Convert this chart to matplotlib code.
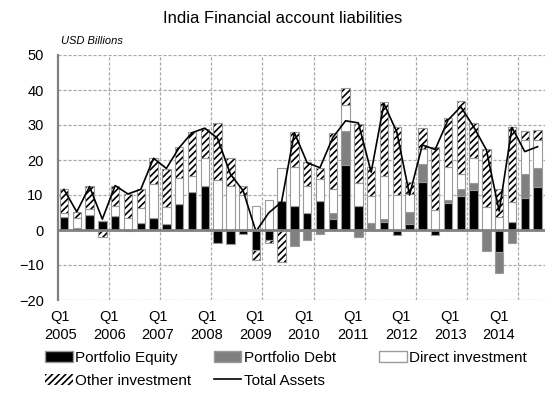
import numpy as np
import matplotlib
matplotlib.use("Agg")
import matplotlib.pyplot as plt
from matplotlib.patches import Patch
from matplotlib.lines import Line2D

plt.rcParams["font.family"] = ["Liberation Sans", "DejaVu Sans"]
plt.rcParams["hatch.linewidth"] = 1.2

# ---------- data (USD billions, Q1 2005 .. Q2 2014) ----------
years = ["2005", "2006", "2007", "2008", "2009", "2010", "2011", "2012", "2013", "2014"]

equity = [3.8, 0.6, 4.4, 2.7, 4.1, -0.4, 2.1, 3.5,
          1.7, 7.4, 10.8, 12.6, -3.8, -4.1, -1.2, -5.7,
          -2.8, 8.2, 7.0, 5.0, 8.4, 3.1, 18.6, 7.0,
          0.0, 2.2, -1.4, 1.6, 13.8, -1.4, 7.6, 9.7,
          11.4, 0.0, -6.4, 2.4, 9.2, 12.4]
debt = [0, 0, 0, 0, 0, 0, 0, 0,
        0, 0, 0, 0, 0, 0, 0, 0,
        0, 0, -4.5, -2.9, -1.2, 1.7, 9.6, -2.1,
        1.9, 1.0, 0, 3.6, 5.2, 0, 1.0, 1.9,
        2.1, -6.0, -5.8, -3.6, 6.7, 5.2]
direct = [1.2, 2.7, 1.7, 0.0, 2.9, 3.3, 4.3, 9.6,
          4.8, 7.6, 4.7, 7.9, 14.2, 12.7, 10.0, 7.0,
          8.6, 9.4, 11.0, 7.5, 6.1, 6.9, 7.6, 6.4,
          7.8, 12.2, 10.0, 5.0, 4.1, 5.7, 9.5, 4.3,
          7.0, 6.5, 3.8, 5.7, 9.8, 8.1]
other = [6.6, 1.9, 6.4, -2.0, 5.7, 7.0, 5.2, 7.4,
         10.9, 8.6, 12.6, 8.5, 16.3, 7.8, 2.7, -2.8,
         -1.0, -9.2, 10.0, 6.8, 3.2, 15.9, 4.9, 17.0,
         8.4, 21.3, 19.5, 3.4, 6.1, 18.1, 13.8, 21.1,
         10.2, 16.6, 7.8, 21.2, 2.7, 2.9]
total = [11.6, 5.2, 12.4, 3.1, 12.7, 10.3, 11.6, 20.5,
         17.6, 23.5, 27.8, 29.1, 26.2, 16.0, 11.2, -0.4,
         4.9, 8.0, 27.8, 19.2, 17.8, 26.4, 31.2, 30.6,
         16.5, 36.1, 28.0, 10.0, 24.3, 23.0, 31.4, 35.2,
         29.5, 22.9, 5.4, 29.3, 22.4, 23.8]

n = len(total)
x = np.arange(n)

fig = plt.figure(figsize=(5.48, 4.0), dpi=100)
ax = fig.add_axes([0.105, 0.25, 0.89, 0.6125])

edge = "#9a9a9a"
HATCH = "/////"
styles = [
    ("Portfolio Equity", equity, dict(facecolor="black")),
    ("Portfolio Debt", debt, dict(facecolor="#808080")),
    ("Direct investment", direct, dict(facecolor="white")),
    ("Other investment", other, dict(facecolor="white", hatch=HATCH)),
]

pos_base = np.zeros(n)
neg_base = np.zeros(n)
for name, vals, st in styles:
    v = np.array(vals, dtype=float)
    bottom = np.where(v >= 0, pos_base, neg_base)
    if "hatch" in st:
        # hatch takes the edge colour, so draw it black without outline, then the grey outline
        ax.bar(x, v, 0.65, bottom=bottom, edgecolor="black", linewidth=0, zorder=3, **st)
        ax.bar(x, v, 0.65, bottom=bottom, fill=False, edgecolor=edge, linewidth=0.8, zorder=3)
    else:
        ax.bar(x, v, 0.65, bottom=bottom, edgecolor=edge, linewidth=0.8, zorder=3, **st)
    pos_base = pos_base + np.where(v > 0, v, 0)
    neg_base = neg_base + np.where(v < 0, v, 0)

ax.plot(x, total, color="black", lw=1.2, zorder=4)

# ---------- axes ----------
ax.set_xlim(-0.5, n - 0.4)
ax.set_ylim(-20, 50)
ax.set_yticks(range(-20, 51, 10))
ax.tick_params(axis="y", length=0, labelsize=10.5, pad=10)
ax.tick_params(axis="x", length=0, labelsize=10.5, pad=7)

label_pos = [-0.27 + 3.805 * i for i in range(len(years))]
ax.set_xticks(label_pos, ["Q1\n" + y for y in years])
for t in ax.get_xticklabels():
    t.set_linespacing(1.35)

ax.grid(False)
for yv in range(-20, 51, 10):
    if yv != 0:
        ax.axhline(yv, color="#a8a8a8", lw=0.9, ls=(0, (2.5, 1.5)), zorder=1)
for xv in np.arange(3.5, n, 4):
    ax.axvline(xv, color="#a8a8a8", lw=0.9, ls=(0, (2.5, 1.5)), zorder=1)
ax.axhline(0, color="#808080", lw=2.0, zorder=5)

for s in ["top", "right", "bottom"]:
    ax.spines[s].set_visible(False)
ax.spines["left"].set_color("#808080")
ax.spines["left"].set_linewidth(1.6)

fig.text(0.515, 0.953, "India Financial account liabilities", ha="center", va="center", fontsize=12)
fig.text(0.112, 0.898, "USD Billions", ha="left", va="center", fontsize=8, style="italic")

# ---------- legend ----------
h_eq = Patch(facecolor="black", edgecolor=edge, label="Portfolio Equity")
h_debt = Patch(facecolor="#808080", edgecolor=edge, label="Portfolio Debt")
h_dir = Patch(facecolor="white", edgecolor=edge, label="Direct investment")
h_oth = Patch(facecolor="white", edgecolor="black", linewidth=0, hatch=HATCH, label="Other investment")
h_tot = Line2D([], [], color="black", lw=1.2, label="Total Assets")

common = dict(frameon=False, fontsize=11, handlelength=1.8, handleheight=0.75,
              handletextpad=0.15, labelspacing=0.55, borderaxespad=0, borderpad=0)
fig.legend(handles=[h_eq, h_oth], loc="upper left", bbox_to_anchor=(0.083, 0.122), **common)
fig.legend(handles=[h_debt, h_tot], loc="upper left", bbox_to_anchor=(0.39, 0.122), **common)
fig.legend(handles=[h_dir], loc="upper left", bbox_to_anchor=(0.692, 0.122), **common)

fig.savefig("out.png", dpi=100)
